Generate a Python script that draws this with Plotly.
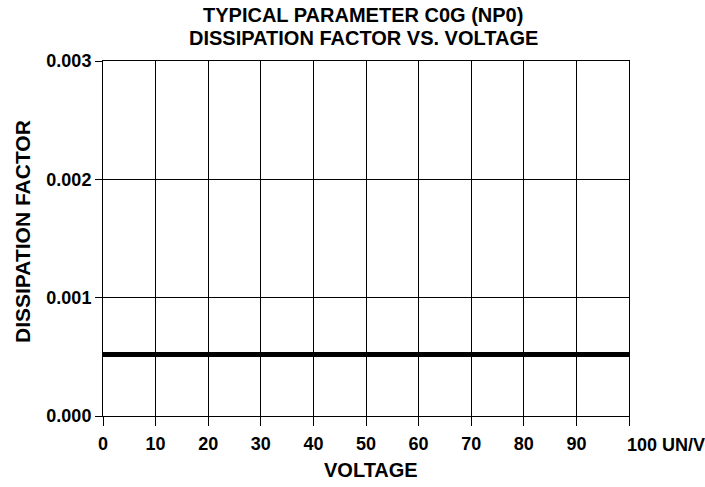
import plotly.graph_objects as go

voltage = [0, 10, 20, 30, 40, 50, 60, 70, 80, 90, 100]
dissipation_factor = [0.00052] * 11
x_ticks = [0, 10, 20, 30, 40, 50, 60, 70, 80, 90, 100]
x_ticklabels = ["0", "10", "20", "30", "40", "50", "60", "70", "80", "90", ""]
y_ticks = [0.000, 0.001, 0.002, 0.003]
y_ticklabels = ["0.000", "0.001", "0.002", "0.003"]
title_lines = ["TYPICAL PARAMETER C0G (NP0)", "DISSIPATION FACTOR VS. VOLTAGE"]

FONT = "Liberation Sans, Arial, sans-serif"
W, HT = 705, 487
L, R, T, B = 103, 76, 61, 71
PW, PH = W - L - R, HT - T - B

def px_x(pix):
    return (pix - L) / PW

def px_y(pix):
    return (HT - B - pix) / PH

fig = go.Figure()
fig.add_trace(go.Scatter(x=voltage, y=dissipation_factor, mode="lines",
                         line=dict(color="black", width=5), showlegend=False,
                         hoverinfo="skip"))

axis_common = dict(showline=True, linecolor="black", linewidth=1, mirror=True,
                   showgrid=True, gridcolor="black", gridwidth=1, zeroline=False,
                   ticks="outside", tickcolor="black", tickwidth=1,
                   tickfont=dict(family=FONT, size=18, color="black", weight="bold"))

fig.update_xaxes(range=[0, 100], tickvals=x_ticks, ticktext=x_ticklabels,
                 ticklen=9, ticklabelstandoff=2, **axis_common)
fig.update_yaxes(range=[0, 0.003], tickvals=y_ticks, ticktext=y_ticklabels,
                 ticklen=7, **axis_common)

def bold(size):
    return dict(family=FONT, size=size, color="black", weight="bold")

fig.add_annotation(text="100 UN/V", x=100, y=0, xref="x", yref="y", xanchor="left",
                   yanchor="top", xshift=-4, yshift=-17, showarrow=False, font=bold(18))
fig.add_annotation(text=title_lines[0], x=px_x(363), y=px_y(15), xref="paper", yref="paper",
                   xanchor="center", yanchor="middle", showarrow=False, font=bold(20))
fig.add_annotation(text=title_lines[1], x=px_x(363), y=px_y(38), xref="paper", yref="paper",
                   xanchor="center", yanchor="middle", showarrow=False, font=bold(20))
fig.add_annotation(text="VOLTAGE", x=px_x(371), y=px_y(470), xref="paper", yref="paper",
                   xanchor="center", yanchor="middle", showarrow=False, font=bold(20))
fig.add_annotation(text="DISSIPATION FACTOR", x=px_x(22), y=px_y(232), xref="paper", yref="paper",
                   xanchor="center", yanchor="middle", textangle=-90, showarrow=False,
                   font=bold(21))

fig.update_layout(
    width=W, height=HT,
    margin=dict(l=L, r=R, t=T, b=B),
    paper_bgcolor="white", plot_bgcolor="white",
)

fig.write_html("out.html", config={"displayModeBar": False},
               post_script="document.body.style.margin='0';")
